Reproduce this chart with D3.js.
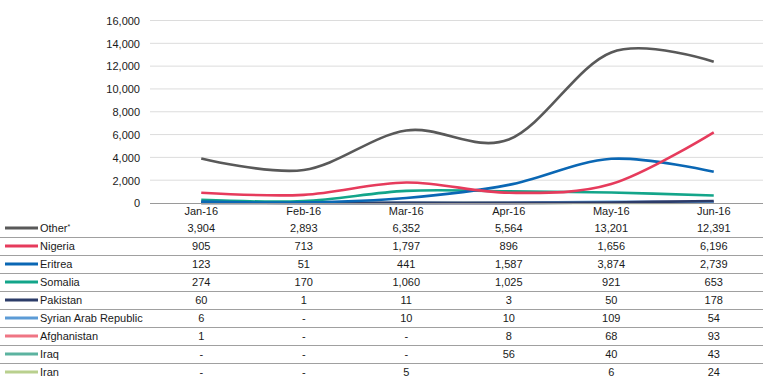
<!DOCTYPE html>
<html>
<script src='https://d3js.org/d3.v7.min.js'></script>
<style>
 body {margin:0; background:#fff;}
 text {font-family: 'Liberation Sans', Arial, sans-serif; font-size:11px; fill:#1a1a1a;}
</style>
<body>
<svg width=782 height=382></svg>
<script>

// months along the x axis
var months = ['Jan-16','Feb-16','Mar-16','Apr-16','May-16','Jun-16'];
var yTicks = [0,2000,4000,6000,8000,10000,12000,14000,16000];

// null = "-" in the table, '' = empty cell
var other       = [3904, 2893, 6352, 5564, 13201, 12391];
var nigeria     = [905, 713, 1797, 896, 1656, 6196];
var eritrea     = [123, 51, 441, 1587, 3874, 2739];
var somalia     = [274, 170, 1060, 1025, 921, 653];
var pakistan    = [60, 1, 11, 3, 50, 178];
var syria       = [6, null, 10, 10, 109, 54];
var afghanistan = [1, null, null, 8, 68, 93];
var iraq        = [null, null, null, 56, 40, 43];
var iran        = [null, null, 5, '', 6, 24];

var names  = ['Other','Nigeria','Eritrea','Somalia','Pakistan','Syrian Arab Republic','Afghanistan','Iraq','Iran'];
var colors = ['#595959','#e63b5c','#0a67b4','#13a58a','#2c3c69','#5c9bd6','#ef7584','#5cb3a0','#b9d08e'];
var series = [other, nigeria, eritrea, somalia, pakistan, syria, afghanistan, iraq, iran];

var svg = d3.select('svg');

var x = d3.scaleBand().domain(months).range([150,765]);
var y = d3.scaleLinear().domain([0,16000]).range([203,20.5]);

// gridlines
svg.append('g').selectAll('line')
  .data(yTicks.slice(1))
  .enter().append('line')
   .attr('x1',150).attr('x2',763)
   .attr('y1',function(d){return y(d);}).attr('y2',function(d){return y(d);})
   .style('stroke','#dcdcdc').style('stroke-width',1);

// y axis labels
var yAxis = svg.append('g')
  .attr('transform','translate(140,0)')
  .call(d3.axisLeft(y).tickValues(yTicks).tickFormat(d3.format(',')).tickSize(0).tickPadding(0));
yAxis.select('.domain').remove();
yAxis.selectAll('text').style('font-size','11px').style('fill','#1a1a1a').attr('dy','0.35em');

// lines, drawn back to front
var line = d3.line()
  .x(function(d,i){return x(months[i]) + x.bandwidth()/2;})
  .y(function(d){return y(typeof d === 'number' ? d : 0);})
  .curve(d3.curveCardinal.tension(0));

var order = d3.range(series.length).reverse();
svg.append('g').selectAll('path')
  .data(order)
  .enter().append('path')
   .attr('d',function(k){return line(series[k]);})
   .style('fill','none')
   .style('stroke',function(k){return colors[k];})
   .style('stroke-width',2.6);

// x baseline
svg.append('line')
  .attr('x1',150).attr('x2',763).attr('y1',y(0)+0.5).attr('y2',y(0)+0.5)
  .style('stroke','#9a9a9a').style('stroke-width',1);

// month labels
svg.append('g').selectAll('text')
  .data(months)
  .enter().append('text')
   .attr('x',function(d){return x(d)+x.bandwidth()/2;})
   .attr('y',215)
   .attr('text-anchor','middle')
   .text(function(d){return d;});

// table rows
var rowH = 18, row0 = 228;
var fmt = d3.format(',');
var rows = svg.append('g').selectAll('g')
  .data(series)
  .enter().append('g')
   .attr('transform',function(d,i){return 'translate(0,'+(row0+i*rowH)+')';});

rows.append('line')
  .attr('x1',5).attr('x2',38).attr('y1',0).attr('y2',0)
  .style('stroke',function(d,i){return colors[i];})
  .style('stroke-width',3);

var lbl = rows.append('text')
  .attr('x',40).attr('y',0).attr('dy','0.35em')
  .text(function(d,i){return names[i];});
lbl.filter(function(d,i){return i === 0;})
  .append('tspan').attr('dy','-0.35em').style('font-size','7px').text('*');

rows.selectAll('text.v')
  .data(function(d){return d;})
  .enter().append('text')
   .attr('class','v')
   .attr('x',function(d,i){return x(months[i])+x.bandwidth()/2;})
   .attr('y',0).attr('dy','0.35em')
   .attr('text-anchor','middle')
   .text(function(d){return d === null ? '-' : (d === '' ? '' : fmt(d));});

rows.filter(function(d,i){return i < series.length-1;})
  .append('line')
   .attr('x1',0).attr('x2',763).attr('y1',9.5).attr('y2',9.5)
   .style('stroke','#a0a0a0').style('stroke-width',1);

</script>
</body>
</html>
